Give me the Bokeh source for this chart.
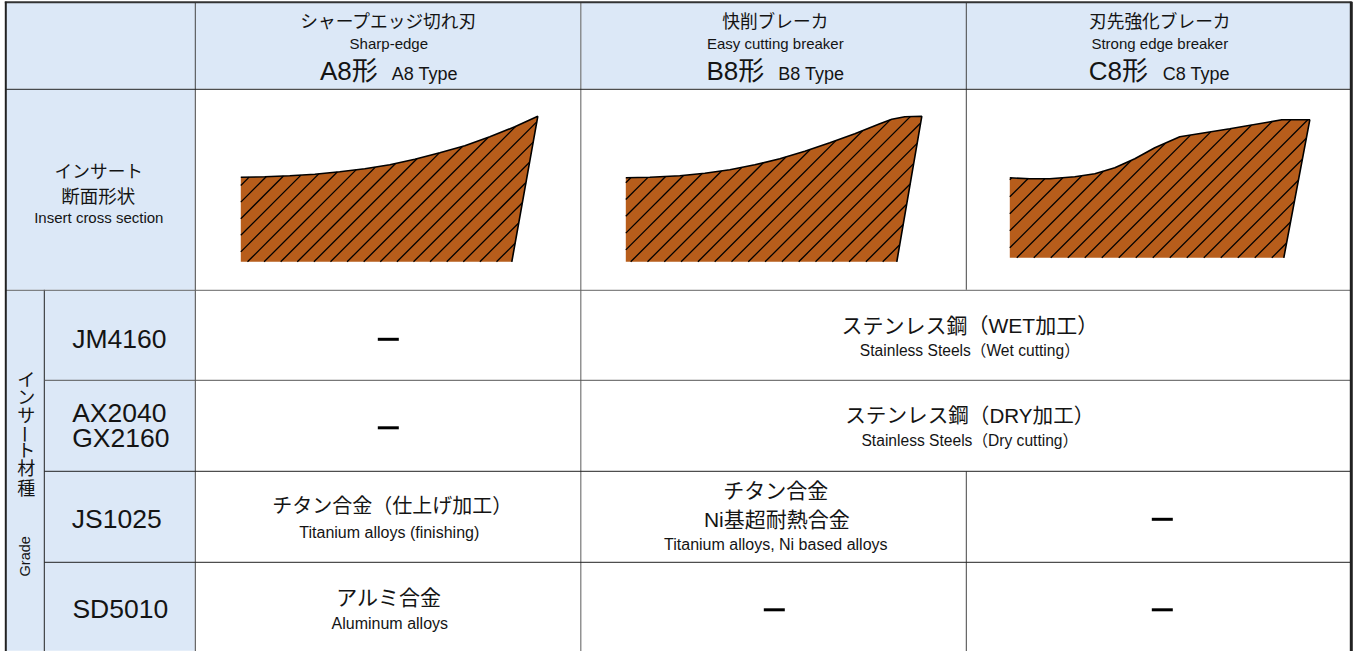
from bokeh.plotting import figure
from bokeh.embed import file_html
from bokeh.resources import INLINE
from bokeh.core.properties import value

W, H = 1357, 651
LATIN = "'Liberation Sans', 'Noto Sans CJK JP'"
INK = "#141414"
HEAD = "#dce8f7"
BROWN = "#b75d1b"
SHIFT = 0.7

# cell fills: left, right, top, bottom
fill_l = [6, 6, 6]
fill_r = [1351, 195, 195]
fill_t = [3, 89, 290]
fill_b = [89, 290, 651]

# grid lines: x0, y0, x1, y1, colour, width
grid = [
    (44.5, 290, 44.5, 652, "#222222", 1),
    (195.5, 3, 195.5, 652, "#444444", 1),
    (581, 3, 581, 652, "#777777", 1.2),
    (966.5, 3, 966.5, 290, "#444444", 1),
    (966.5, 471.5, 966.5, 652, "#444444", 1),
    (6, 89.5, 1351, 89.5, "#222222", 1),
    (6, 290.5, 1351, 290.5, "#666666", 1),
    (44.5, 380.5, 1351, 380.5, "#555555", 1),
    (44.5, 471.5, 1351, 471.5, "#222222", 1),
    (44.5, 562.5, 1351, 562.5, "#222222", 1),
    (5, 2.5, 1352, 2.5, "#333333", 2),
    (6, 2, 6, 652, "#222222", 2),
    (1351.5, 2, 1351.5, 652, "#222222", 3),
]

# profile outlines
a_x = [241, 265, 290, 315, 340, 365, 390, 415, 440, 465, 490, 515, 538]
a_y = [177.5, 177, 176, 174.5, 172, 169, 165, 159.5, 153, 146, 137, 127, 116.5]
a_base = [(512, 262), (241, 262)]

b_x = [626, 650, 680, 705, 730, 755, 780, 805, 830, 855, 880, 892, 905, 922]
b_y = [178, 177.5, 176, 173.5, 170, 165, 159, 151.5, 143, 134, 124, 119.5, 117, 116.5]
b_base = [(897, 262), (626, 262)]

c_x = [1010, 1030, 1050, 1075, 1095, 1115, 1135, 1155, 1180, 1230, 1282, 1310]
c_y = [178, 179, 179, 177, 174, 168, 159, 148, 137, 129, 120, 120]
c_base = [(1284, 258), (1010, 258)]

# hatch phase and spacing of each profile (x + y of one stripe, and step)
hatch_phase = [443.3, 825.7, 1224.0]
hatch_step = [16.6, 16.8, 17.0]

# dashes for "not available": x0, x1, y
dash_x0 = [378, 378, 1152, 1152, 764]
dash_x1 = [399, 399, 1173, 1173, 785]
dash_y = [339.5, 428, 519.5, 610, 610]

# texts: label, centre x, centre y, size
small = [
    ("Sharp-edge", 389, 44, 15),
    ("Easy cutting breaker", 775.5, 44, 15),
    ("Strong edge breaker", 1160, 44, 15),
    ("Insert cross section", 99, 218, 15),
    ("Titanium alloys (finishing)", 389.5, 533, 16),
    ("Titanium alloys, Ni based alloys", 776, 545, 16),
    ("Aluminum alloys", 390, 624, 16),
    ("Stainless Steels（Wet cutting）", 970, 351, 15.6),
    ("Stainless Steels（Dry cutting）", 970, 441, 15.6),
]
type_big = [("A8形", 349, 71), ("B8形", 735.5, 71), ("C8形", 1118.5, 71)]
type_small = [("A8 Type", 425, 74), ("B8 Type", 811.5, 74), ("C8 Type", 1196.5, 74)]
grades = [("JM4160", 119.5, 339), ("AX2040", 119.5, 413), ("GX2160", 121, 438),
          ("JS1025", 117, 519), ("SD5010", 120.5, 609)]
japanese = [
    ("シャープエッジ切れ刃", 389, 22, 17.7),
    ("快削ブレーカ", 775.5, 22, 17.7),
    ("刃先強化ブレーカ", 1160, 22, 17.7),
    ("インサート", 99, 172.5, 17.7),
    ("断面形状", 98.5, 196.5, 18.5),
    ("ステンレス鋼（WET加工）", 970, 325.5, 21),
    ("ステンレス鋼（DRY加工）", 970, 415.5, 20.6),
    ("チタン合金（仕上げ加工）", 392.5, 506.5, 20),
    ("チタン合金", 776, 490.5, 21),
    ("Ni基超耐熱合金", 777, 519.5, 21),
    ("アルミ合金", 389, 597.5, 21),
]
side_chars = list("インサート材種")
side_y = [380.5, 398.5, 416.5, 434.5, 451.5, 469.5, 489.5]
side_angle = [0, 0, 0, 1.5708, 0, 0, 0]

p = figure(width=W, height=H, x_range=(SHIFT, W + SHIFT), y_range=(H + SHIFT, SHIFT), output_backend="svg",
           toolbar_location=None, min_border=0, outline_line_color=None,
           background_fill_color="white", border_fill_color="white",
           styles={"position": "absolute", "left": "0", "top": "0"})
p.xaxis.visible = False
p.yaxis.visible = False
p.grid.visible = False

p.quad(left=fill_l, right=fill_r, top=fill_t, bottom=fill_b, fill_color=HEAD, line_color=None)


def hatch_segments(px, py, phase, step):
    """Cut 45 degree stripes x + y = c to the inside of a polygon."""
    s = [x + y for x, y in zip(px, py)]
    n = len(px)
    c = phase - step * int((phase - min(s)) / step)
    out = []
    while c < max(s):
        hits = []
        for i in range(n):
            j = (i + 1) % n
            if (s[i] - c) * (s[j] - c) < 0:
                t = (c - s[i]) / (s[j] - s[i])
                hits.append((px[i] + t * (px[j] - px[i]), py[i] + t * (py[j] - py[i])))
        hits.sort()
        for k in range(0, len(hits) - 1, 2):
            out.append((hits[k], hits[k + 1]))
        c += step
    return out


for (xs, ys, base), ph, st in zip([(a_x, a_y, a_base), (b_x, b_y, b_base), (c_x, c_y, c_base)],
                                  hatch_phase, hatch_step):
    px = xs + [b[0] for b in base]
    py = ys + [b[1] for b in base]
    p.patch(px, py, fill_color=BROWN, line_color=None)
    segs = hatch_segments(px, py, ph, st)
    p.segment(x0=[a[0] for a, b in segs], y0=[a[1] for a, b in segs],
              x1=[b[0] for a, b in segs], y1=[b[1] for a, b in segs],
              line_color="#000000", line_width=1.3)
    p.line(xs + [base[0][0]], ys + [base[0][1]], line_color="black", line_width=1.6)

for x0, y0, x1, y1, c, w in grid:
    p.segment(x0=[x0], y0=[y0], x1=[x1], y1=[y1], line_color=c, line_width=w)

p.segment(x0=dash_x0, y0=dash_y, x1=dash_x1, y1=dash_y, line_color="black", line_width=3)


def put(items, size, font=LATIN):
    p.text(x=[i[1] for i in items], y=[i[2] for i in items], text=[i[0] for i in items],
           text_font=value(font), text_font_size=value(f"{size}px"), text_color=INK,
           text_align="center", text_baseline="middle")


for group in (small, japanese):
    for size in sorted({i[3] for i in group}):
        put([i for i in group if i[3] == size], size)
put(type_big, 26)
put(type_small, 18)
put(grades, 26.5)

p.text(x=[26.5] * len(side_chars), y=side_y, text=side_chars, angle=side_angle,
       text_font=value(LATIN), text_font_size=value("18px"), text_color=INK,
       text_align="center", text_baseline="middle")
p.text(x=[25.5], y=[556.5], text=["Grade"], angle=[1.5708],
       text_font=value(LATIN), text_font_size=value("14.5px"), text_color=INK,
       text_align="center", text_baseline="middle")

open("out.html", "w").write(file_html(p, INLINE))
